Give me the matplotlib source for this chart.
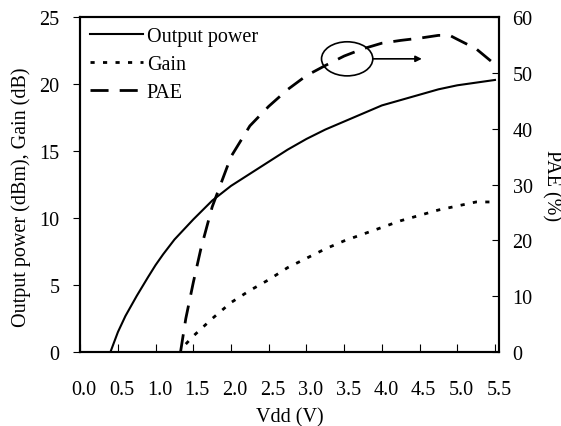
import matplotlib.pyplot as plt
import matplotlib.transforms as mtransforms
from matplotlib.patches import Ellipse

plt.rcParams['font.family'] = ['Liberation Serif', 'DejaVu Serif']
plt.rcParams['font.size'] = 14.5

# Output power (dBm), left axis
vdd_pout = [0.4, 0.5, 0.6, 0.75, 0.9, 1.0, 1.1, 1.25, 1.4, 1.5, 1.75, 2.0, 2.25,
            2.5, 2.75, 3.0, 3.25, 3.5, 3.75, 4.0, 4.25, 4.5, 4.75, 5.0, 5.25, 5.5]
pout = [0.0, 1.5, 2.7, 4.2, 5.6, 6.5, 7.3, 8.4, 9.3, 9.9, 11.3, 12.4, 13.3,
        14.2, 15.1, 15.9, 16.6, 17.2, 17.8, 18.4, 18.8, 19.2, 19.6, 19.9, 20.1, 20.3]

# Gain (dB), left axis
vdd_gain = [1.4, 1.5, 1.75, 2.0, 2.25, 2.5, 2.75, 3.0, 3.25, 3.5, 3.75, 4.0,
            4.25, 4.5, 4.75, 5.0, 5.25, 5.5]
gain = [0.6, 1.2, 2.5, 3.7, 4.6, 5.4, 6.3, 7.0, 7.7, 8.3, 8.8, 9.3,
        9.8, 10.2, 10.6, 10.9, 11.2, 11.2]

# PAE (%), right axis
vdd_pae = [1.33, 1.4, 1.5, 1.6, 1.75, 2.0, 2.25, 2.5, 2.75, 3.0, 3.25, 3.5,
           3.75, 4.0, 4.25, 4.5, 4.75, 4.9, 5.0, 5.25, 5.5]
pae = [0.0, 6.0, 12.5, 18.5, 26.0, 35.0, 40.5, 44.0, 47.0, 49.5, 51.3, 53.0,
       54.3, 55.3, 55.8, 56.2, 56.7, 56.7, 56.0, 54.3, 51.5]

xticks = [0.0, 0.5, 1.0, 1.5, 2.0, 2.5, 3.0, 3.5, 4.0, 4.5, 5.0, 5.5]

fig = plt.figure(figsize=(5.61, 4.27), dpi=100)
ax = fig.add_axes([0.143, 0.173, 0.746, 0.785])
ax2 = ax.twinx()

l1, = ax.plot(vdd_pout, pout, color='black', lw=1.5, label='Output power')
l2, = ax.plot(vdd_gain, gain, color='black', lw=2, ls=(0, (1.5, 3)), label='Gain')
l3, = ax2.plot(vdd_pae, pae, color='black', lw=2, ls=(0, (6.5, 4)), label='PAE')

ax.set_xlim(0, 5.55)
ax.set_ylim(0, 25)
ax2.set_ylim(0, 60)
ax.set_xticks(xticks)
ax.set_xticklabels(['%.1f' % t for t in xticks])
ax.set_yticks([0, 5, 10, 15, 20, 25])
ax2.set_yticks([0, 10, 20, 30, 40, 50, 60])

ax.tick_params(axis='x', direction='in', length=6, pad=20)
ax.tick_params(axis='y', direction='out', length=5, pad=10)
ax2.tick_params(axis='y', direction='in', length=5, pad=10)

# labels sit a little to the right of their ticks, as in the original
offset = mtransforms.ScaledTranslation(4 / 100, 0, fig.dpi_scale_trans)
for lab in ax.get_xticklabels():
    lab.set_transform(lab.get_transform() + offset)

for a in (ax, ax2):
    for s in a.spines.values():
        s.set_linewidth(1.5)

ax.set_xlabel('Vdd (V)', labelpad=6)
ax.set_ylabel('Output power (dBm), Gain (dB)')
ax.yaxis.set_label_coords(-0.118, 0.465)
ax2.set_ylabel('PAE (%)', rotation=270, labelpad=20)

ax.legend(handles=[l1, l2, l3], loc='upper left', frameon=False,
          handlelength=2.6, handletextpad=0.2, labelspacing=0.45,
          borderaxespad=0.15, borderpad=0.35, fontsize=14.5)

ell = Ellipse((3.54, 52.5), 0.68, 6.1, fill=False, edgecolor='black', lw=1.2)
ax2.add_patch(ell)
ax2.annotate('', xy=(4.53, 52.5), xytext=(3.88, 52.5),
             arrowprops=dict(arrowstyle='-|>', color='black', lw=1.2,
                             mutation_scale=9, shrinkA=0, shrinkB=0))

fig.savefig('out.png', dpi=100)
